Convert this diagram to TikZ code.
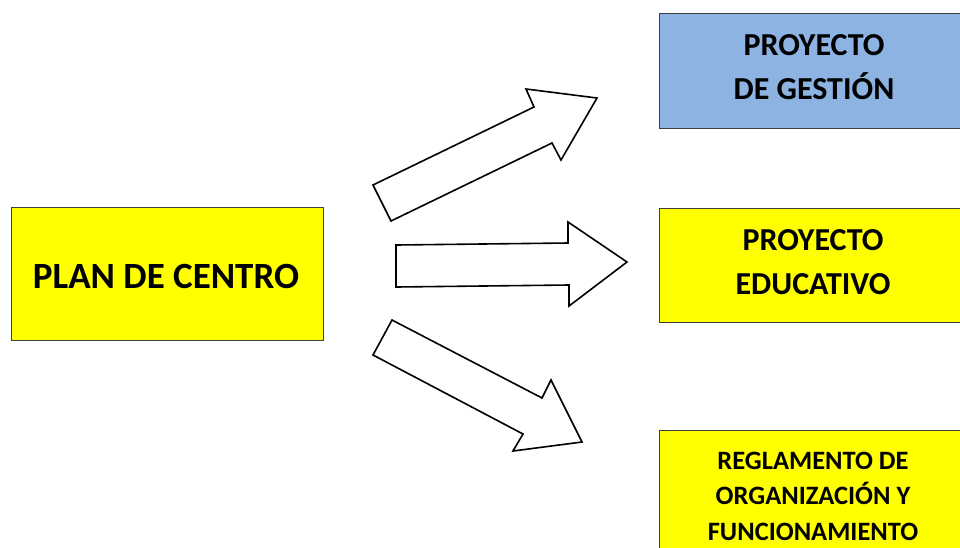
\documentclass[tikz,border=0pt]{standalone}
\usepackage{fontspec}
\setmainfont{Carlito}
\definecolor{boxblue}{HTML}{8DB3E2}
\definecolor{boxyellow}{HTML}{FFFF00}
\definecolor{boxline}{HTML}{404040}
\begin{document}
\begin{tikzpicture}[x=1pt,y=-1pt,
  box/.style={draw=boxline, line width=0.8pt, rectangle, inner sep=0pt},
  boxtext/.style={align=center, inner sep=0pt, font=\bfseries},
  blockarrow/.style={draw=black, line width=1.6pt, fill=white, line join=miter}]
\useasboundingbox (0,0) rectangle (960,547);
\fill[white] (0,0) rectangle (960,547);
% boxes
\node[box, fill=boxyellow, minimum width=312pt, minimum height=133pt] (plan) at (167,274) {};
\node[boxtext, font=\bfseries\fontsize{37}{40}\selectfont] (plant) at (166,276) {PLAN DE CENTRO};
\node[box, fill=boxblue, minimum width=306pt, minimum height=115pt] (ges) at (812,70.5) {};
\node[boxtext, font=\bfseries\fontsize{32}{44}\selectfont] (gest) at (814,67.5) {PROYECTO\\ DE GESTIÓN};
\node[box, fill=boxyellow, minimum width=306pt, minimum height=114pt] (edu) at (812,265) {};
\node[boxtext, font=\bfseries\fontsize{32}{44}\selectfont] (edut) at (813,262) {PROYECTO\\EDUCATIVO};
\node[box, fill=boxyellow, minimum width=306pt, minimum height=130pt] (reg) at (812,495) {};
\node[boxtext, font=\bfseries\fontsize{26.5}{35.5}\selectfont] (regt) at (813,496) {REGLAMENTO DE\\ORGANIZACIÓN Y\\FUNCIONAMIENTO};
% upper arrow
\draw[blockarrow] (373,185) -- (534,107) -- (526,89) -- (597,98) -- (561,160) -- (552,143) -- (391,221) -- cycle;
% middle arrow
\draw[blockarrow] (396,245) -- (568,243) -- (568,222) -- (627,262) -- (569,306) -- (569,285) -- (396,287) -- cycle;
% lower arrow
\draw[blockarrow] (392,320) -- (542,398) -- (551,380) -- (582,442) -- (513,451) -- (523,434) -- (373,355) -- cycle;
\end{tikzpicture}
\end{document}
